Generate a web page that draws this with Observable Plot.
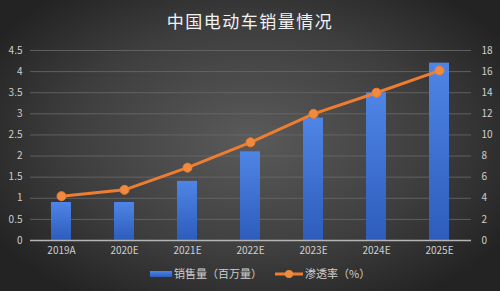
<!DOCTYPE html>
<html><head><meta charset="utf-8">
<script src="https://cdn.jsdelivr.net/npm/d3@7"></script>
<script src="https://cdn.jsdelivr.net/npm/@observablehq/plot@0.6"></script>
<style>
html,body{margin:0;padding:0;}
body{width:500px;height:291px;overflow:hidden;position:relative;
 background:radial-gradient(ellipse 60% 65% at 50% 48%, #5a5a5a 0%, #3e3e3e 60%, #232323 100%);
 font-family:"Noto Sans CJK SC","Noto Sans",sans-serif;}
#title{position:absolute;left:0;top:8px;width:500px;text-align:center;color:#f2f2f2;font-size:17px;letter-spacing:1.5px;}
#chart{position:absolute;left:0;top:40px;}
#legend{position:absolute;left:0;top:264px;width:500px;height:20px;font-size:11px;color:#cfcfcf;}
</style></head>
<body>
<div id="title">中国电动车销量情况</div>
<div id="chart"></div>
<div id="legend"></div>
<script>
const categories = ["2019A","2020E","2021E","2022E","2023E","2024E","2025E"];
const sales = [0.9, 0.9, 1.4, 2.1, 2.9, 3.5, 4.2];
const penetration = [4.2, 4.8, 6.9, 9.3, 12.0, 14.0, 16.1];
const leftTicks = [0,0.5,1,1.5,2,2.5,3,3.5,4,4.5];
const rightTicks = [0,2,4,6,8,10,12,14,16,18];
const seriesNames = ["销售量（百万量）","渗透率（%）"];

const ratio = 18/4.5;
const data = categories.map((c,i)=>({cat:c, sales:sales[i], rate:penetration[i]}));

const plot = Plot.plot({
  width:500, height:220,
  marginTop:10, marginBottom:20, marginLeft:30, marginRight:29,
  style:{background:"transparent", color:"#cfcfcf", fontSize:"10px", fontFamily:"'Noto Sans CJK SC','Noto Sans',sans-serif"},
  x:{domain:categories, paddingInner:0.68, paddingOuter:0.34, label:null},
  y:{domain:[0,4.5], label:null},
  marks:[
    Plot.ruleY(leftTicks.slice(1), {stroke:"#6a6a6a", strokeWidth:1, strokeOpacity:0.8}),
    Plot.barY(data, {x:"cat", y:"sales", fill:"url(#barGrad)"}),
    Plot.ruleY([0], {stroke:"#b5b5b5", strokeWidth:1.5}),
    Plot.line(data, {x:"cat", y:d=>d.rate/ratio, stroke:"#ED7D31", strokeWidth:3}),
    Plot.dot(data, {x:"cat", y:d=>d.rate/ratio, r:4.5, fill:"#F08A3E", stroke:"#ED7D31", strokeWidth:1}),
    Plot.axisX({tickSize:0, tickPadding:6, label:null, fill:"#cfcfcf"}),
    Plot.axisY(leftTicks, {anchor:"left", tickSize:0, tickPadding:8, label:null, tickFormat:d=>String(d), fill:"#cfcfcf"}),
    Plot.axisY(rightTicks.map(v=>v/ratio), {anchor:"right", tickSize:0, tickPadding:10, label:null, tickFormat:d=>String(Math.round(d*ratio)), fill:"#cfcfcf"})
  ]
});
const ns = "http://www.w3.org/2000/svg";
const defs = document.createElementNS(ns,"defs");
defs.innerHTML = '<linearGradient id="barGrad" x1="0" y1="0" x2="0" y2="1"><stop offset="0%" stop-color="#4f85e6"/><stop offset="100%" stop-color="#2d5cbc"/></linearGradient>';
plot.insertBefore(defs, plot.firstChild);
document.getElementById("chart").appendChild(plot);

// legend
const lg = d3.select("#legend").append("svg").attr("width",500).attr("height",20);
const ldefs = lg.append("defs");
ldefs.html('<linearGradient id="barGrad2" x1="0" y1="0" x2="0" y2="1"><stop offset="0%" stop-color="#4f85e6"/><stop offset="100%" stop-color="#2d5cbc"/></linearGradient>');
lg.append("rect").attr("x",150).attr("y",7).attr("width",22).attr("height",6).attr("fill","url(#barGrad2)");
lg.append("text").attr("x",174).attr("y",14).attr("fill","#cfcfcf").attr("font-size",11).text(seriesNames[0]);
lg.append("line").attr("x1",275).attr("x2",303).attr("y1",10).attr("y2",10).attr("stroke","#ED7D31").attr("stroke-width",3);
lg.append("circle").attr("cx",289).attr("cy",10).attr("r",4).attr("fill","#F08A3E");
lg.append("text").attr("x",305).attr("y",14).attr("fill","#cfcfcf").attr("font-size",11).text(seriesNames[1]);
</script>
</body></html>
